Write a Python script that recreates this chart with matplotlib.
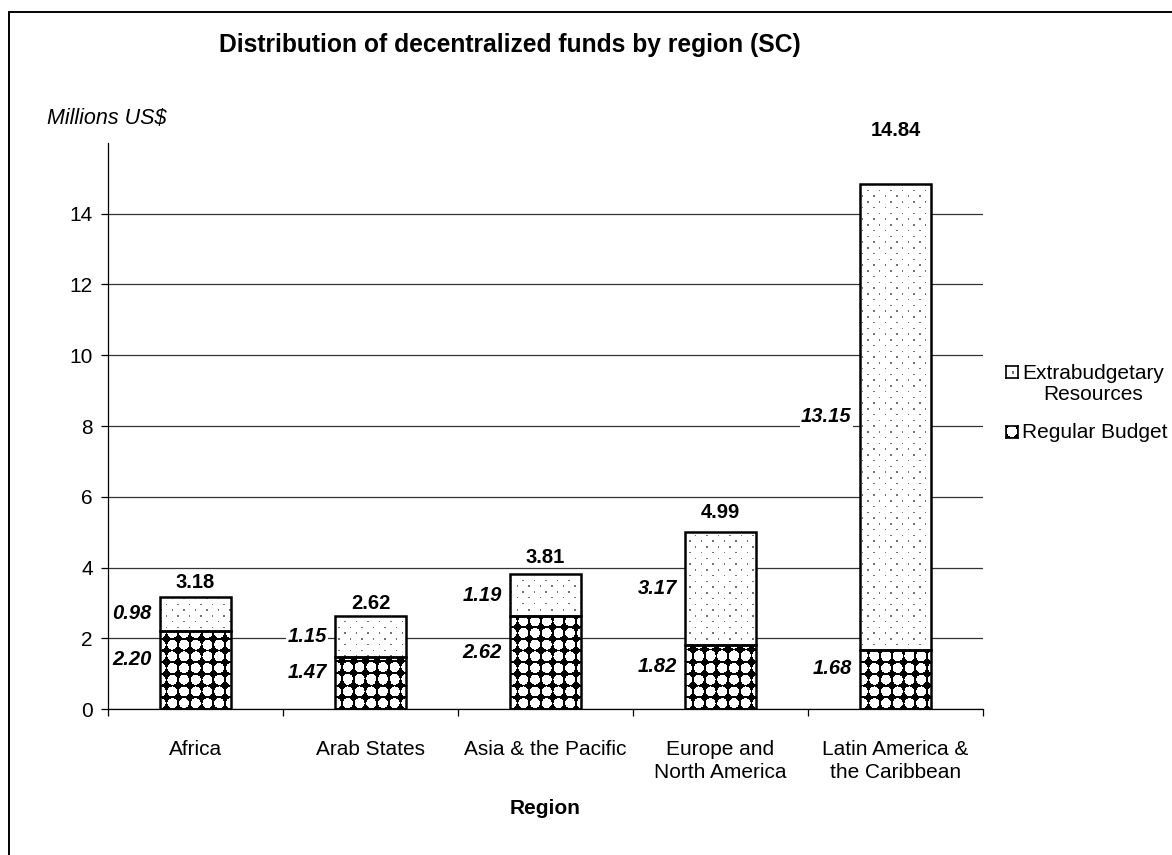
import matplotlib
matplotlib.use("Agg")
import matplotlib.pyplot as plt
import numpy as np
from matplotlib.patches import Rectangle

plt.rcParams["font.family"] = ["Liberation Sans", "DejaVu Sans"]

# ── Data ──────────────────────────────────────────────────────────────────────
regions = ["Africa", "Arab States", "Asia & the Pacific",
           "Europe and\nNorth America", "Latin America &\nthe Caribbean"]
regular_budget = [2.20, 1.47, 2.62, 1.82, 1.68]
extrabudgetary = [0.98, 1.15, 1.19, 3.17, 13.15]
totals = [3.18, 2.62, 3.81, 4.99, 14.84]

W, H = 1172, 855
AX_L, AX_R, AX_B, AX_T = 108, 983, 709, 143


def pattern_regular(h, w):
    # white round holes on black -> black concave diamonds between them
    yy, xx = np.mgrid[0:h, 0:w] + 0.5
    px, py = 11.7, 11.7
    u = (xx % px) / px - 0.5
    v = (yy % py) / py - 0.5
    white = u ** 2 + v ** 2 < 0.18
    img = np.where(white, 1.0, 0.0)
    return np.dstack([img] * 3)


def pattern_dots(h, w):
    # sparse grey dots on white, staggered rows
    yy, xx = np.mgrid[0:h, 0:w]
    p = 11.5
    q = p / 2
    row = np.floor(yy / q)
    dx = (xx - (row % 2) * p / 2) % p
    dy = yy % q
    dot = (dx < 1.3) & (dy < 1.3)
    img = np.where(dot, 0.45, 1.0)
    return np.dstack([img] * 3)


fig = plt.figure(figsize=(W / 100, H / 100), dpi=100)
ax = fig.add_axes([AX_L / W, (H - AX_B) / H, (AX_R - AX_L) / W, (AX_B - AX_T) / H])

x = np.arange(len(regions))
width = 0.405
ph, pw = AX_B - AX_T, AX_R - AX_L
img_reg = pattern_regular(ph, pw)
img_dot = pattern_dots(ph, pw)

bars_reg = ax.bar(x, regular_budget, width, facecolor="none", edgecolor="black",
                  linewidth=1.8, zorder=4)
bars_ext = ax.bar(x, extrabudgetary, width, bottom=regular_budget, facecolor="none",
                  edgecolor="black", linewidth=1.8, zorder=4)
for bars, img in ((bars_reg, img_reg), (bars_ext, img_dot)):
    for b in bars:
        im = ax.imshow(img, extent=(-0.5, 4.5, 0, 16), origin="lower", aspect="auto",
                       interpolation="nearest", zorder=3)
        im.set_clip_path(b)

ax.set_xlim(-0.5, 4.5)
ax.set_ylim(0, 16)

# ── Segment labels ────────────────────────────────────────────────────────────
lbl = dict(fontsize=14.5, fontweight="bold", fontstyle="italic", ha="right", va="center",
           zorder=5, bbox=dict(facecolor="white", edgecolor="none", pad=1))
for i in x:
    r, e = regular_budget[i], extrabudgetary[i]
    ax.annotate(f"{r:.2f}", (i - width / 2, r / 2 + 0.3), xytext=(-6, 0),
                textcoords="offset points", **lbl)
    ax.annotate(f"{e:.2f}", (i - width / 2, r + e / 2), xytext=(-6, 0),
                textcoords="offset points", **lbl)

# totals sit on their own (hidden) secondary scale, as in the original workbook
ax2 = ax.twinx()
ax2.set_ylim(0, 14.6)
ax2.set_xlim(-0.5, 4.5)
ax2.axis("off")
for i, t in zip(x, totals):
    ax2.annotate(f"{t:.2f}", (i, t), xytext=(0, 2.5), textcoords="offset points",
                 ha="center", va="center", fontsize=14.5, fontweight="bold",
                 annotation_clip=False)

# ── Axes styling ──────────────────────────────────────────────────────────────
ax.set_yticks(range(0, 15, 2))
ax.yaxis.grid(True, color="#333333", linewidth=0.9)
ax.set_axisbelow(True)
ax.tick_params(axis="y", direction="out", length=5, width=0.9, labelsize=15, pad=6)
ax.set_xticks(x)
ax.set_xticklabels(regions)
for t in ax.get_xticklabels():
    t.set_linespacing(1.3)
ax.set_xticks(np.arange(-0.5, 5, 1), minor=True)
ax.tick_params(axis="x", which="major", length=0, labelsize=15, pad=22)
ax.tick_params(axis="x", which="minor", direction="out", length=5, width=0.9)
for s in ("top", "right"):
    ax.spines[s].set_visible(False)
for s in ("left", "bottom"):
    ax.spines[s].set_linewidth(0.9)

fig.text(219 / W, 1 - 45 / H, "Distribution of decentralized funds by region (SC)",
         fontsize=17.7, fontweight="bold", ha="left", va="center")
fig.text(47 / W, 1 - 118 / H, "Millions US$", fontsize=15.5, fontstyle="italic",
         ha="left", va="center")
fig.text((AX_L + AX_R) / 2 / W, 1 - 808 / H, "Region", fontsize=15, fontweight="bold",
         ha="center", va="center")

# ── Legend (drawn by hand so the swatches carry the fill patterns) ───────────
sw = 12
for img, label, yc in ((pattern_dots(sw, sw), "Extrabudgetary\nResources", 384),
                       (pattern_regular(sw, sw), "Regular Budget", 432)):
    top = yc - 12 if "\n" in label else yc
    lax = fig.add_axes([1006 / W, 1 - (top + sw / 2) / H, sw / W, sw / H])
    lax.imshow(img, interpolation="nearest", aspect="auto")
    lax.set_xticks([])
    lax.set_yticks([])
    for s in lax.spines.values():
        s.set_linewidth(1.2)
    fig.text(1022 / W, 1 - yc / H, label, fontsize=15, ha="left", va="center",
             multialignment="center", linespacing=1.15)

# figure frame (only left and top edges fall inside the picture)
fig.patches.append(Rectangle((9 / W, -0.1), 1.2, 1.1 - 12 / H, transform=fig.transFigure,
                             fill=False, edgecolor="black", linewidth=1.4))

fig.savefig("out.png", dpi=100)
